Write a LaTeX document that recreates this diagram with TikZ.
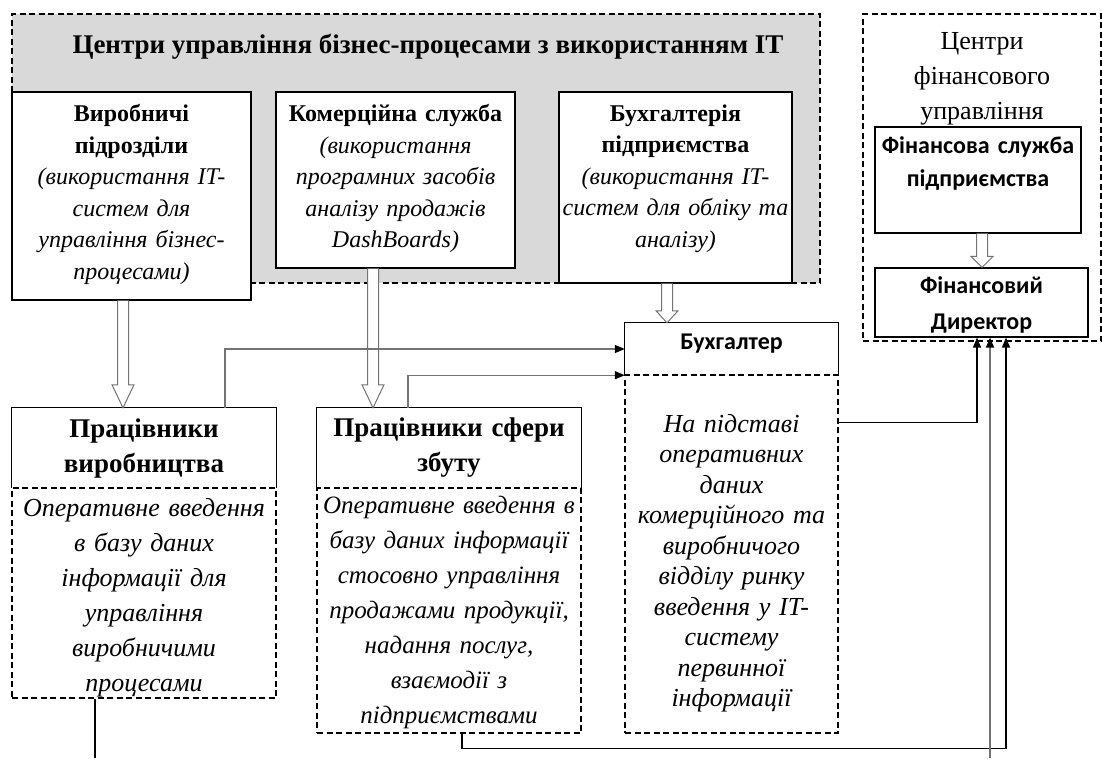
\documentclass[tikz,border=0pt]{standalone}
\usepackage{fontspec}
\setmainfont{Liberation Serif}
\newfontfamily\sansf{Carlito}
\usetikzlibrary{arrows.meta,calc}
\newcommand\fs[2]{\fontsize{#1}{#2}\selectfont}
\newcommand\mkbox[6]{\node[#6, minimum width={(#4-#2)*1pt}, minimum height={(#5-#3)*1pt}] (#1) at ({(#2+#4)/2},{(#3+#5)/2}) {};}
\newcommand\hollowarr[3]{\draw[hollow] let \p1=(#1), \p2=(#2) in (\x1-5.5pt,\y1) -- (\x1-5.5pt,\y2+#3) -- (\x1-11pt,\y2+#3) -- (\x1,\y2) -- (\x1+11pt,\y2+#3) -- (\x1+5.5pt,\y2+#3) -- (\x1+5.5pt,\y1);}
\begin{document}
\begin{tikzpicture}[x=1pt,y=-1pt,
  solidbox/.style={draw, line width=1.1pt, fill=white, inner sep=0pt},
  plainbox/.style={inner sep=0pt},
  dashbox/.style={draw, line width=1.1pt, dash pattern=on 6pt off 3.5pt, inner sep=0pt},
  grpbox/.style={dashbox, fill=black!15},
  edge/.style={line width=1.1pt},
  conn/.style={draw=black!55, line width=1.3pt},
  darkconn/.style={draw=black, line width=1.3pt},
  endtip/.style={-{Triangle[length=10pt,width=8pt,fill=black,color=black]}},
  hollow/.style={draw=black!55, line width=1pt, fill=white},
  txt/.style={inner sep=0pt, align=center, text width=300pt}]
\useasboundingbox (0,0) rectangle (1102,758);
% groups
\mkbox{grp}{12}{14}{820}{283}{grpbox}
\mkbox{fgrp}{863}{14}{1101}{341}{dashbox}
\node[inner sep=0pt, font=\bfseries\fs{27}{30}] (ttl) at (428,47) {Центри управління бізнес-процесами з використанням IT};
\node[txt, font=\fs{26}{35}, anchor=north] (ftl) at (982,32) {Центри\\фінансового\\управління};
% upper boxes
\mkbox{B1}{12}{92}{251}{300}{solidbox}
\mkbox{B2}{276}{92}{515}{268}{solidbox}
\mkbox{B3}{559}{92}{792}{283}{solidbox}
\node[txt, font=\fs{24}{31.5}, anchor=north] (t1) at ([yshift=-13pt]B1.north) {\bfseries Виробничі\\підрозділи\\\mdseries\itshape (використання IT-\\систем для\\управління бізнес-\\процесами)};
\node[txt, font=\fs{24}{31.5}, anchor=north] (t2) at ([yshift=-13pt]B2.north) {\bfseries Комерційна служба\\\mdseries\itshape (використання\\програмних засобів\\аналізу продажів\\DashBoards)};
\node[txt, font=\fs{24}{31.5}, anchor=north] (t3) at ([yshift=-13pt]B3.north) {\bfseries Бухгалтерія\\підприємства\\\mdseries\itshape (використання IT-\\систем для обліку та\\аналізу)};
% finance boxes
\mkbox{F1}{875}{127}{1081}{233}{solidbox}
\mkbox{F2}{875}{268}{1088}{337}{solidbox}
\node[txt, font=\sansf\bfseries\fs{24}{33}, anchor=north] (tf1) at ([yshift=-10pt]F1.north) {Фінансова служба\\підприємства};
\node[txt, font=\sansf\bfseries\fs{24}{36}, anchor=north] (tf2) at ([yshift=-9pt]F2.north) {Фінансовий\\Директор};
% lower boxes
\mkbox{P1b}{12}{488}{276}{698}{dashbox}
\mkbox{P1t}{12}{408}{276}{488}{plainbox}
\draw[edge] (P1t.south west) |- (P1t.north east) -- (P1t.south east);
\mkbox{P2b}{317}{488}{581}{733}{dashbox}
\mkbox{P2t}{317}{408}{581}{488}{plainbox}
\draw[edge] (P2t.south west) |- (P2t.north east) -- (P2t.south east);
\mkbox{Bb}{625}{375}{838}{733}{dashbox}
\mkbox{Bt}{625}{323}{838}{375}{plainbox}
\draw[edge] (Bt.south west) |- (Bt.north east) -- (Bt.south east);
\node[txt, font=\bfseries\fs{27}{35}] (tp1) at (P1t) {Працівники\\виробництва};
\node[txt, font=\itshape\fs{26}{35}] (bp1) at ([yshift=-5pt]P1b.center) {Оперативне введення\\в базу даних\\інформації для\\управління\\виробничими\\процесами};
\node[txt, font=\bfseries\fs{27}{35}] (tp2) at (P2t) {Працівники сфери\\збуту};
\node[txt, font=\itshape\fs{25}{35}] (bp2) at ([yshift=-2pt]P2b.center) {Оперативне введення в\\базу даних інформації\\стосовно управління\\продажами продукції,\\надання послуг,\\взаємодії з\\підприємствами};
\node[txt, font=\sansf\bfseries\fs{24}{26}, anchor=north] (tbt) at ([yshift=-11pt]Bt.north) {Бухгалтер};
\node[txt, font=\itshape\fs{26}{30.5}] (bbt) at ([yshift=-9pt]Bb.center) {На підставі\\оперативних\\даних\\комерційного та\\виробничого\\відділу ринку\\введення у IT-\\систему\\первинної\\інформації};
% hollow arrows
\hollowarr{[xshift=-8.5pt]B1.south}{P1t.north}{23pt}
\hollowarr{[xshift=-22.5pt]B2.south}{P2t.north}{23pt}
\hollowarr{[xshift=-8.5pt]B3.south}{Bt.north}{12pt}
\hollowarr{[xshift=4pt]F1.south}{F2.north}{11pt}
% connectors
\coordinate (d1) at ([xshift=-4.5pt]F2.south);
\coordinate (d2) at ([xshift=8.5pt]F2.south);
\coordinate (d3) at ([xshift=24.5pt]F2.south);
\coordinate (bot1) at (95,758);
\coordinate (bot2) at (990,758);
\draw[conn, endtip] ([xshift=81pt]P1t.north) |- (Bt.west);
\draw[conn, endtip] ([xshift=-41pt]P2t.north) |- (Bt.south west);
\draw[darkconn, endtip] ([yshift=-48pt]Bb.north east) -| (d1);
\draw[darkconn, endtip] ([xshift=13pt]P2b.south) |- ($(d3)+(0,411)$) -- (d3);
\draw[conn, endtip] (bot2) -- (d2);
\draw[darkconn] ([xshift=-49pt]P1b.south) -- (bot1);
\end{tikzpicture}
\end{document}
